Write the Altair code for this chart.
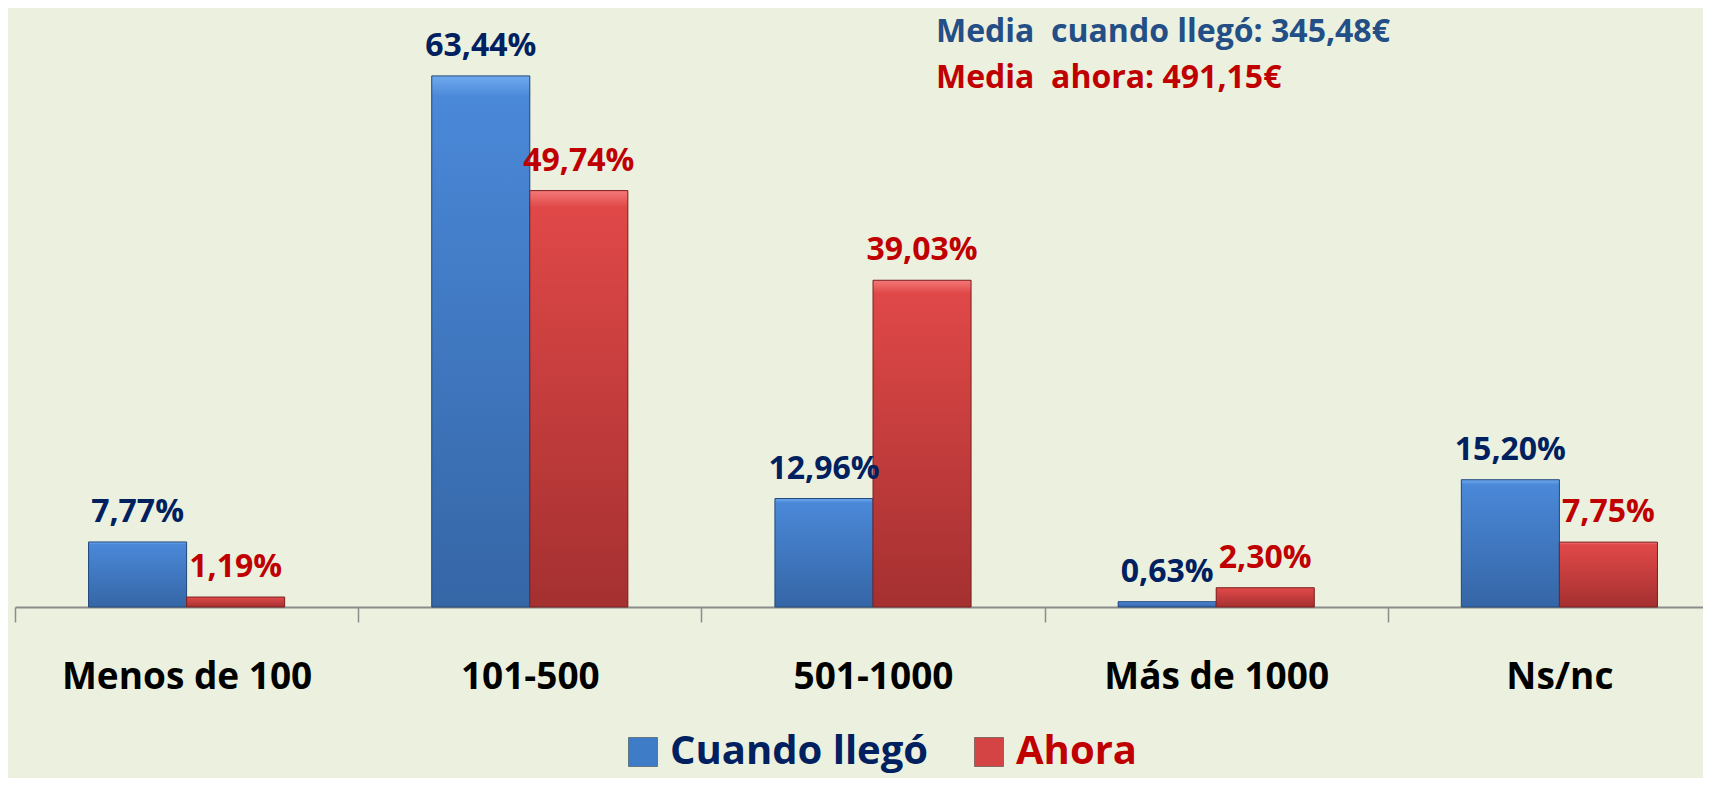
import altair as alt
import pandas as pd

categorias = ["Menos de 100", "101-500", "501-1000", "Más de 1000", "Ns/nc"]
series = ["Cuando llegó", "Ahora"]
cuando_llego = [7.77, 63.44, 12.96, 0.63, 15.20]
ahora = [1.19, 49.74, 39.03, 2.30, 7.75]
notas = ["Media  cuando llegó: 345,48€", "Media  ahora: 491,15€"]

rows = []
for c, a, b in zip(categorias, cuando_llego, ahora):
    rows.append({"categoria": c, "serie": series[0], "valor": a})
    rows.append({"categoria": c, "serie": series[1], "valor": b})
df = pd.DataFrame(rows)

FONT = "Open Sans"
BG = "#EBF1DE"

grad_blue = {"gradient": "linear", "x1": 0, "y1": 0, "x2": 0, "y2": 1,
             "stops": [{"offset": 0, "color": "#6fa8ee"},
                       {"offset": 0.04, "color": "#4a88d8"},
                       {"offset": 1, "color": "#3566a6"}]}
grad_red = {"gradient": "linear", "x1": 0, "y1": 0, "x2": 0, "y2": 1,
            "stops": [{"offset": 0, "color": "#f47878"},
                      {"offset": 0.04, "color": "#e04848"},
                      {"offset": 1, "color": "#a53030"}]}

is_ahora = alt.datum.serie == series[1]

x_enc = alt.X("categoria:N", sort=categorias,
              scale=alt.Scale(range=[0, 1716], paddingInner=0, paddingOuter=0),
              axis=alt.Axis(title=None, labelAngle=0, tickBand="extent",
                            domainColor="#8c8c8c", domainWidth=2,
                            tickColor="#8c8c8c", tickWidth=1.5, tickSize=15,
                            labelFont=FONT, labelFontSize=37, labelFontWeight="bold",
                            labelColor="#000000", labelPadding=37, labelLimit=0,
                            grid=False))
xo_enc = alt.XOffset("serie:N", sort=series,
                     scale=alt.Scale(domain=series, paddingOuter=0.75, paddingInner=0))
y_enc = alt.Y("valor:Q", scale=alt.Scale(domain=[0, 70]), axis=None)

base = alt.Chart(df)

legend_bars = base.mark_bar().encode(
    x=x_enc, xOffset=xo_enc, y=y_enc,
    fill=alt.Fill("serie:N", sort=series,
                  scale=alt.Scale(domain=series, range=["#3f7cc8", "#d54444"]),
                  legend=alt.Legend(orient="none", legendX=608, legendY=711,
                                    direction="horizontal", title=None,
                                    symbolType="square", symbolSize=841,
                                    symbolStrokeColor="#333333", symbolStrokeWidth=0.5,
                                    labelFont=FONT, labelFontSize=40, labelFontWeight="bold",
                                    labelColor=alt.ExprRef("datum.label == 'Ahora' ? '#C00000' : '#002060'"),
                                    labelOffset=7, columnPadding=40, labelLimit=0)),
)

grad_bars = base.mark_bar(strokeWidth=1).encode(
    x=x_enc, xOffset=xo_enc, y=y_enc,
    fill=alt.condition(is_ahora, alt.value(grad_red), alt.value(grad_blue)),
    stroke=alt.condition(is_ahora, alt.value("#7a2222"), alt.value("#234a7a")),
)

labels = base.transform_calculate(
    etiqueta="replace(format(datum.valor, '.2f'), '.', ',') + '%'"
).mark_text(dy=-20, baseline="alphabetic", font=FONT, fontSize=32, fontWeight="bold").encode(
    x=x_enc, xOffset=xo_enc, y=y_enc,
    text="etiqueta:N",
    color=alt.condition(is_ahora, alt.value("#C00000"), alt.value("#002060")),
)

# keep the double space visible in SVG
notas_svg = [n.replace("  ", " \u00a0") for n in notas]

nota1 = alt.Chart(pd.DataFrame({"t": [notas_svg[0]]})).mark_text(
    align="left", baseline="alphabetic", font=FONT, fontSize=32, fontWeight="bold",
    color="#234E86").encode(x=alt.value(921), y=alt.value(21), text="t:N")
nota2 = alt.Chart(pd.DataFrame({"t": [notas_svg[1]]})).mark_text(
    align="left", baseline="alphabetic", font=FONT, fontSize=32, fontWeight="bold",
    color="#C00000").encode(x=alt.value(921), y=alt.value(67), text="t:N")

chart = alt.layer(legend_bars, grad_bars, labels, nota1, nota2).properties(
    width=1688, height=586, background=BG,
    padding={"left": 7, "top": 13, "right": 0, "bottom": 171},
    autosize=alt.AutoSizeParams(type="none"),
).configure_view(stroke=None)

chart.save("out.html", embed_options={"renderer": "svg", "actions": False})
